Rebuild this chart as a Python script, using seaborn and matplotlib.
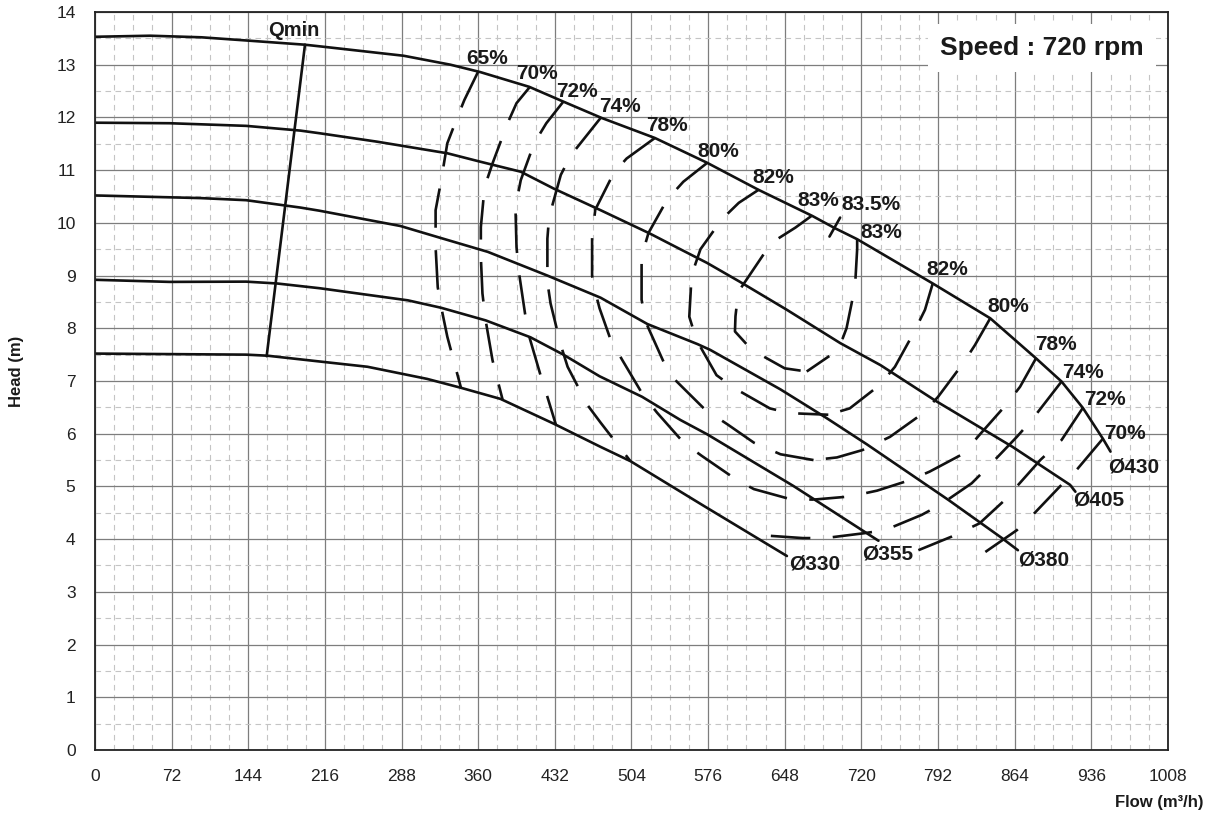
import matplotlib
matplotlib.use("Agg")
import matplotlib.pyplot as plt
from matplotlib.ticker import MultipleLocator
import seaborn as sns

sns.set_style("white")
plt.rcParams["font.family"] = ["Liberation Sans", "DejaVu Sans"]

# -------------------------
# Impeller curves: flow (m3/h) / head (m)
# -------------------------
d430_q = [0, 52, 100, 142, 197, 215, 290, 334, 362, 408, 440, 476, 526, 575, 623, 674, 695, 716, 738, 787, 841, 884, 908, 928, 947, 954]
d430_h = [13.53, 13.55, 13.52, 13.46, 13.38, 13.34, 13.17, 13.0, 12.86, 12.58, 12.30, 11.99, 11.61, 11.14, 10.63, 10.13, 9.90, 9.69, 9.43, 8.85, 8.19, 7.43, 6.99, 6.49, 5.90, 5.66]

d405_q = [0, 70, 142, 193, 211, 265, 331, 362, 400, 431, 475, 521, 546, 575, 606, 650, 700, 738, 790, 862, 916, 921]
d405_h = [11.90, 11.89, 11.84, 11.75, 11.70, 11.54, 11.32, 11.16, 10.97, 10.65, 10.24, 9.80, 9.54, 9.24, 8.88, 8.35, 7.72, 7.30, 6.62, 5.75, 5.03, 4.90]

d380_q = [0, 99, 142, 193, 211, 287, 322, 369, 425, 475, 519, 566, 578, 644, 687, 725, 802, 852, 867]
d380_h = [10.52, 10.47, 10.43, 10.29, 10.23, 9.94, 9.73, 9.45, 9.00, 8.58, 8.08, 7.70, 7.59, 6.84, 6.30, 5.80, 4.74, 4.02, 3.79]

d355_q = [0, 70, 142, 171, 211, 294, 325, 367, 409, 440, 474, 514, 550, 575, 656, 736]
d355_h = [8.92, 8.88, 8.885, 8.85, 8.76, 8.53, 8.39, 8.15, 7.83, 7.50, 7.09, 6.70, 6.26, 5.99, 5.01, 3.97]

d330_q = [0, 70, 142, 162, 211, 256, 312, 344, 381, 431, 475, 503, 572, 650]
d330_h = [7.52, 7.51, 7.50, 7.48, 7.37, 7.27, 7.04, 6.87, 6.66, 6.19, 5.75, 5.48, 4.63, 3.68]

qmin_q = [161.3, 197.3]
qmin_h = [7.47, 13.38]

# -------------------------
# Iso-efficiency lines (flow, head)
# -------------------------
eff_65 = [(360, 12.87), (347, 12.33), (340, 11.98), (331, 11.51), (325, 10.78), (320, 10.24), (320, 9.54),
          (322, 8.78), (326.5, 8.28), (331, 7.84), (343.7, 6.88)]
eff_70_left = [(408.6, 12.58), (396, 12.27), (387.6, 11.89), (373.5, 11.13), (366, 10.68), (362.5, 9.92),
               (362.5, 9.35), (364, 8.66), (367, 8.15), (373.5, 7.39), (383, 6.64)]
eff_70_right = [(946.6, 5.90), (922, 5.31), (906.5, 5.0), (881, 4.46), (866, 4.17), (834.5, 3.73)]
eff_72_left = [(440, 12.30), (424, 11.89), (412.6, 11.51), (400, 10.81), (395, 10.30), (396, 9.54), (398, 9.10),
               (404, 8.28), (408, 7.84), (419, 7.08), (425, 6.70), (433, 6.17)]
eff_72_right = [(928, 6.49), (908, 5.88), (888, 5.50), (866, 5.0), (853, 4.71), (831, 4.30), (805, 4.05), (773.5, 3.79)]
eff_74_left = [(475, 11.99), (447, 11.28), (437.6, 10.91), (426.6, 10.11), (425, 9.70), (425, 8.88), (428, 8.47),
               (437.6, 7.68), (444, 7.27), (462.8, 6.54), (475, 6.21), (503, 5.48)]
eff_74_right = [(908, 6.99), (880, 6.26), (866, 5.94), (839, 5.37), (823.6, 5.06), (794, 4.65), (776.6, 4.46),
                (742, 4.17), (721.7, 4.11), (685.8, 4.02), (665, 4.02), (621.6, 4.08)]
eff_78 = [(526, 11.61), (499.4, 11.22), (487.4, 10.95), (470, 10.25), (467, 9.75), (467, 8.99), (471.8, 8.55),
          (474, 8.38), (484.3, 7.79), (495, 7.41), (515, 6.73), (528, 6.40), (553, 5.83), (570, 5.58),
          (601.7, 5.14), (618.9, 4.95), (653, 4.76), (675, 4.75), (709.6, 4.81), (734.7, 4.92), (765.6, 5.12),
          (784, 5.28), (815.7, 5.62), (831, 5.98), (856, 6.55), (869, 6.89), (884, 7.43)]
eff_80 = [(574.6, 11.13), (552.7, 10.78), (537.5, 10.44), (520, 9.81), (513.5, 9.36), (513.5, 8.54), (518, 8.09),
          (534, 7.37), (545, 7.02), (573, 6.46), (594, 6.18), (619, 5.83), (644, 5.61), (675, 5.50), (697, 5.55),
          (721, 5.69), (746.8, 5.94), (778, 6.39), (792, 6.70), (815.7, 7.34), (826.6, 7.68), (841, 8.19)]
eff_82 = [(623.6, 10.63), (604.8, 10.38), (589, 10.07), (568.8, 9.50), (560.5, 9.01), (558.3, 8.22), (565, 7.78),
          (583.9, 7.11), (601, 6.86), (634, 6.48), (652.9, 6.39), (688.9, 6.36), (709, 6.48), (737, 6.92),
          (751.5, 7.27), (768.7, 7.90), (779.7, 8.35), (787, 8.85)]
eff_83 = [(673, 10.13), (658, 9.91), (640.8, 9.69), (631, 9.49), (617, 9.07), (604.3, 8.69), (601.7, 8.23),
          (601.2, 7.94), (617, 7.59), (648, 7.24), (668.6, 7.18), (698.3, 7.59), (706, 8.0), (714, 8.79),
          (716, 9.50), (716, 9.69)]
eff_835 = [(690, 9.74), (700, 10.10)]

open_branches = [eff_65, eff_70_left, eff_70_right, eff_72_left, eff_72_right, eff_74_left, eff_74_right]
closed_loops = [eff_78, eff_80, eff_82, eff_83]

eff_labels = [("65%", 368.2, 13.11), ("70%", 414.9, 12.83), ("72%", 452.5, 12.50), ("74%", 493.2, 12.20),
              ("78%", 537.3, 11.84), ("80%", 585.5, 11.35), ("82%", 636.9, 10.86), ("83%", 679.7, 10.43),
              ("83.5%", 729.0, 10.34), ("83%", 738.4, 9.81), ("82%", 800.4, 9.11), ("80%", 858.1, 8.41),
              ("78%", 903.1, 7.70), ("74%", 928.1, 7.16), ("72%", 949.2, 6.64), ("70%", 968.0, 6.00)]
dia_labels = [("Ø430", 975.4, 5.37), ("Ø405", 942.9, 4.74), ("Ø380", 891.3, 3.60),
              ("Ø355", 744.9, 3.71), ("Ø330", 675.7, 3.52)]

curves = [(d430_q, d430_h), (d405_q, d405_h), (d380_q, d380_h), (d355_q, d355_h), (d330_q, d330_h)]

# -------------------------
# Plot
# -------------------------
fig = plt.figure(figsize=(12.05, 8.22), dpi=100)
ax = fig.add_axes([0.0788, 0.0876, 0.8905, 0.8978])

ink = "#111111"
dash = (0, (15, 8.5))

for q, h in curves:
    sns.lineplot(x=q, y=h, ax=ax, color=ink, linewidth=1.9, sort=False, estimator=None)
sns.lineplot(x=qmin_q, y=qmin_h, ax=ax, color=ink, linewidth=1.9, sort=False, estimator=None)


def draw_dashed(pts):
    q = [p[0] for p in pts]
    h = [p[1] for p in pts]
    sns.lineplot(x=q, y=h, ax=ax, color=ink, linewidth=1.9, linestyle=dash,
                 sort=False, estimator=None)


for br in open_branches:
    draw_dashed(br)

# closed loops: draw from both Ø430 ends towards the bottom
for loop in closed_loops:
    i = min(range(len(loop)), key=lambda k: loop[k][1])
    draw_dashed(loop[:i + 1])
    draw_dashed(loop[i:][::-1])

sns.lineplot(x=[p[0] for p in eff_835], y=[p[1] for p in eff_835], ax=ax, color=ink,
             linewidth=1.9, sort=False, estimator=None)

for txt, q, h in eff_labels + dia_labels:
    ax.text(q, h, txt, ha="center", va="center", fontsize=15, fontweight="bold", color="#1a1a1a")

ax.text(187, 13.65, "Qmin", ha="center", va="center", fontsize=14.5, fontweight="bold", color="#1a1a1a")
ax.text(889.6, 13.32, "Speed : 720 rpm", ha="center", va="center", fontsize=19, fontweight="bold",
        color="#1a1a1a", zorder=5,
        bbox=dict(boxstyle="square,pad=0.45", facecolor="white", edgecolor="none"))

# axes, grid, ticks
ax.set_xlim(0, 1008)
ax.set_ylim(0, 14)
ax.xaxis.set_major_locator(MultipleLocator(72))
ax.xaxis.set_minor_locator(MultipleLocator(18))
ax.yaxis.set_major_locator(MultipleLocator(1))
ax.yaxis.set_minor_locator(MultipleLocator(0.5))
ax.set_axisbelow(True)
ax.grid(which="major", color="#7d7d7d", linewidth=0.9)
ax.grid(which="minor", color="#c4c4c4", linewidth=0.8, linestyle=(0, (5, 4)))
ax.tick_params(which="minor", length=0)
ax.tick_params(which="major", length=10, width=1, color="#999999", labelsize=12.5,
               labelcolor="#222222", pad=4)
for side in ["left", "bottom", "top", "right"]:
    ax.spines[side].set_color("#222222")
    ax.spines[side].set_linewidth(1.3)

ax.set_xlabel("Flow (m³/h)", fontsize=12, fontweight="bold", color="#1a1a1a")
ax.xaxis.set_label_coords((1203 - 95) / 1073, (750 - 803) / 738)
ax.xaxis.label.set_ha("right")
ax.xaxis.label.set_va("center")
ax.set_ylabel("Head (m)", fontsize=12, fontweight="bold", color="#1a1a1a")
ax.yaxis.set_label_coords((17 - 95) / 1073, (750 - 371) / 738)
ax.yaxis.label.set_va("center")

plt.savefig("out.png", dpi=100)
